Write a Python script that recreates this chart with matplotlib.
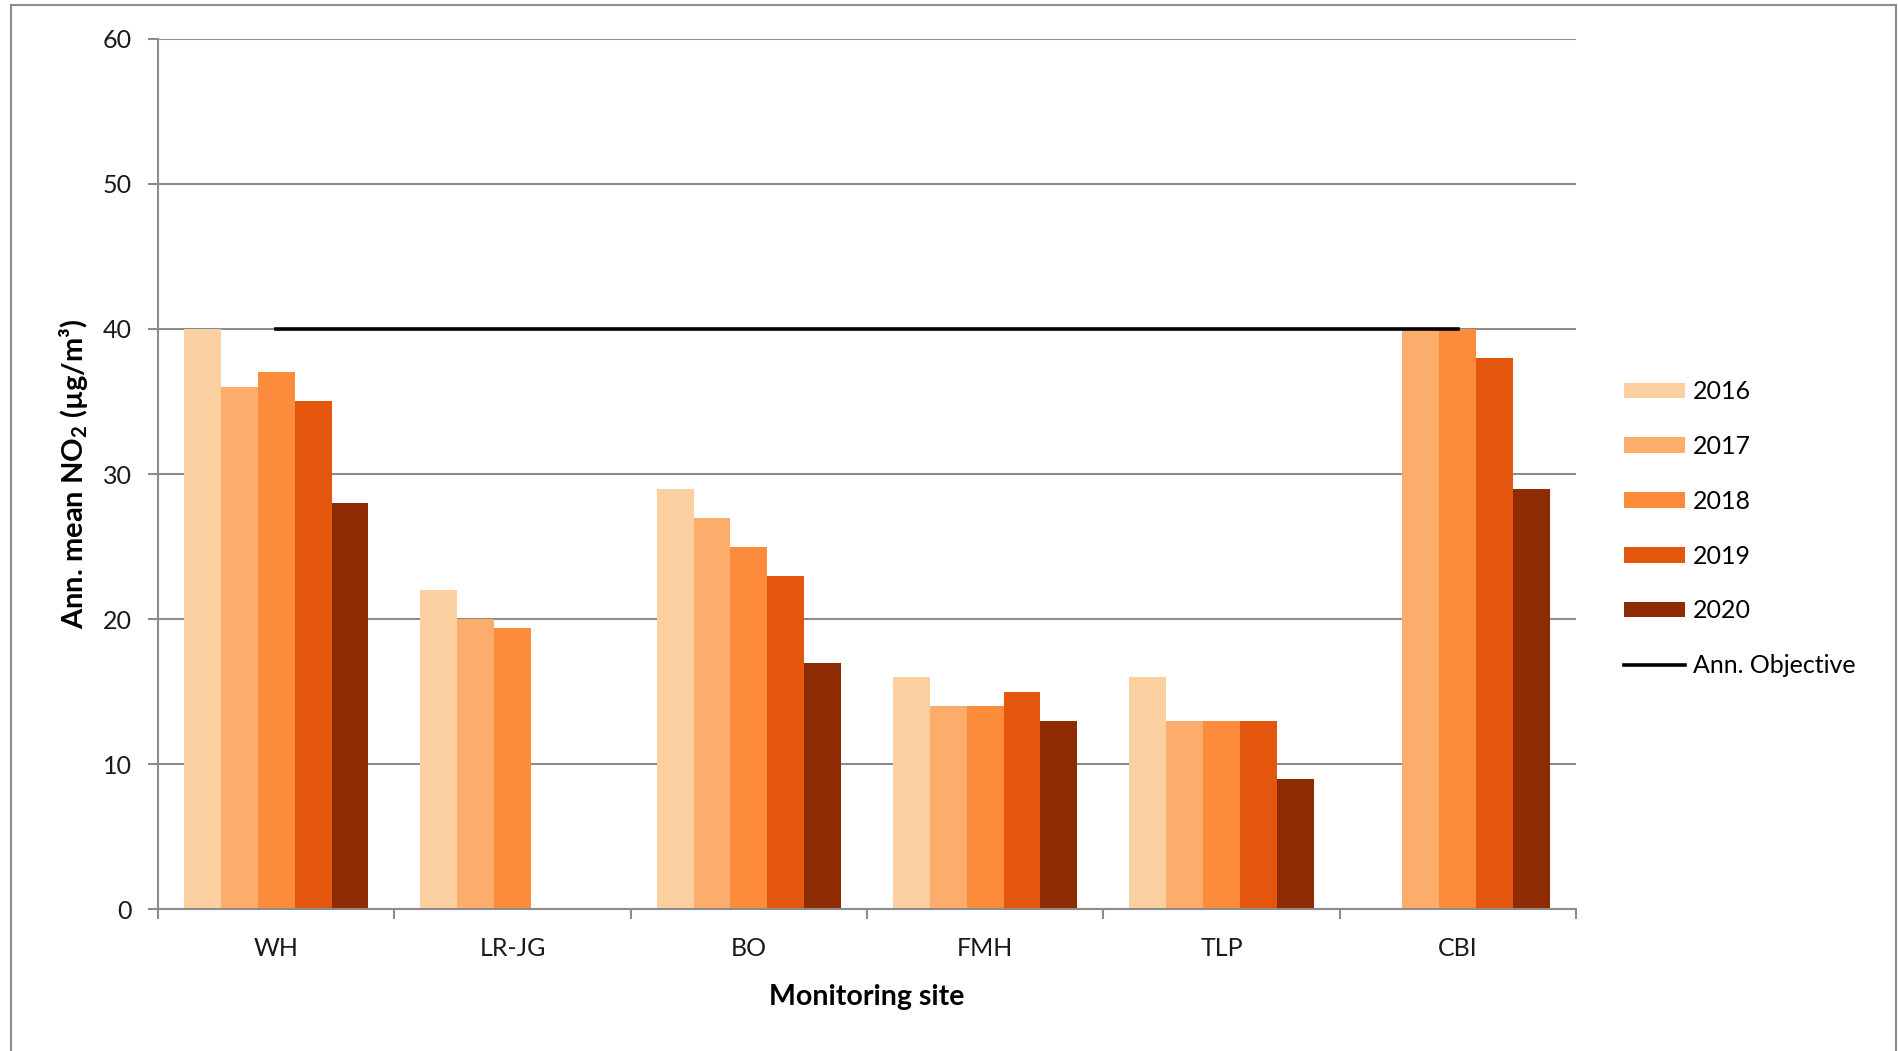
import matplotlib
matplotlib.use("Agg")
from matplotlib import pyplot as plt
from matplotlib.patches import Rectangle
import numpy as np

plt.rcParams["font.family"] = ["Lato", "DejaVu Sans"]
plt.rcParams["mathtext.fontset"] = "custom"
plt.rcParams["mathtext.rm"] = "Lato"
plt.rcParams["mathtext.bf"] = "Lato:bold"
plt.rcParams["mathtext.default"] = "regular"

sites = ["WH", "LR-JG", "BO", "FMH", "TLP", "CBI"]
years = ["2016", "2017", "2018", "2019", "2020"]
no2_2016 = [40, 22, 29, 16, 16, np.nan]
no2_2017 = [36, 20, 27, 14, 13, 40]
no2_2018 = [37, 19.4, 25, 14, 13, 40]
no2_2019 = [35, np.nan, 23, 15, 13, 38]
no2_2020 = [28, np.nan, 17, 13, 9, 29]
objective = 40
colors = ["#fccfa0", "#fcad6b", "#fc8c3c", "#e4550e", "#8d2c03"]

series = [no2_2016, no2_2017, no2_2018, no2_2019, no2_2020]

fig = plt.figure(figsize=(18.98, 10.51), dpi=100)
ax = fig.add_axes([0.0833, 0.135, 0.747, 0.828])

x = np.arange(len(sites))
w = 0.156
handles = []
for i, (vals, yr, c) in enumerate(zip(series, years, colors)):
    b = ax.bar(x + (i - 2) * w, vals, width=w, color=c, label=yr, zorder=2)
    handles.append(b)

ln, = ax.plot([x[0], x[-1]], [objective, objective], color="black", lw=2.6,
              label="Ann. Objective", zorder=3)
handles.append(ln)

ax.set_xlim(-0.5, len(sites) - 0.5)
ax.set_ylim(0, 60)
ax.set_yticks(np.arange(0, 61, 10))
ax.yaxis.grid(True, color="#8c8c8c", lw=1.5, zorder=0)
ax.set_axisbelow(True)

for s in ["top", "right"]:
    ax.spines[s].set_visible(False)
for s in ["left", "bottom"]:
    ax.spines[s].set_color("#8c8c8c")
    ax.spines[s].set_linewidth(1.5)

ax.set_xticks(x)
ax.set_xticklabels(sites)
ax.set_xticks(np.arange(-0.5, len(sites), 1.0), minor=True)
ax.tick_params(axis="x", which="major", length=0, pad=20, labelsize=18, labelcolor="#1a1a1a")
ax.tick_params(axis="x", which="minor", length=7, width=1.5, color="#8c8c8c")
ax.tick_params(axis="y", length=7, width=1.5, color="#8c8c8c", pad=12, labelsize=18,
               labelcolor="#1a1a1a")

ax.set_xlabel("Monitoring site", fontsize=20.5, fontweight="bold", labelpad=17)
ax.set_ylabel(r"Ann. mean NO$_2$ (µg/m³)", fontsize=21, fontweight="bold", labelpad=9)

ax.legend(handles=handles, labels=years + ["Ann. Objective"],
          loc="center left", bbox_to_anchor=(0.8556, 0.497), bbox_transform=fig.transFigure,
          frameon=False, fontsize=18, handlelength=2.45, handleheight=0.6,
          handletextpad=0.3, labelspacing=1.27, borderpad=0, borderaxespad=0)

fig.patches.append(Rectangle((11 / 1898, -0.02), 1885 / 1898, 1.02 - 5 / 1051,
                             transform=fig.transFigure, fill=False,
                             edgecolor="#8c8c8c", lw=1.5))

plt.savefig("out.png")
plt.close()
